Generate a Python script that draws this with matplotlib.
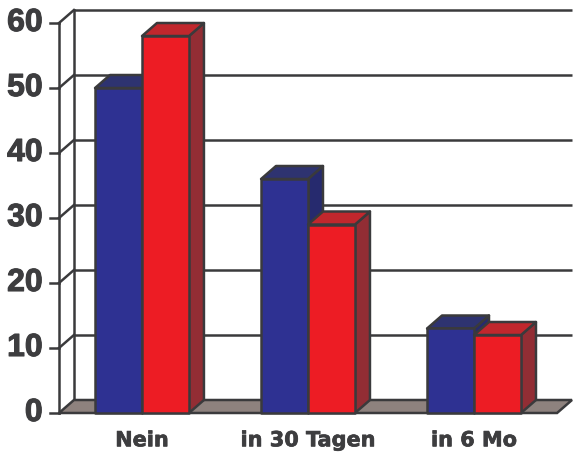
import matplotlib
matplotlib.use("Agg")
import matplotlib.pyplot as plt
from matplotlib.patches import Polygon
import matplotlib.patheffects as pe

categories = ["Nein", "in 30 Tagen", "in 6 Mo"]
series_a = [50, 36, 13]   # blue
series_b = [58, 29, 12]   # red
yticks = [0, 10, 20, 30, 40, 50, 60]

# colours
blue_front, blue_top, blue_side = "#2E3192", "#2E3370", "#262A6E"
red_front, red_top, red_side = "#ED1C24", "#C1272D", "#922D34"
floor_col = "#8E827E"
edge = "#3A3A3C"
txt = "#3D3D3F"

# pseudo-3D depth offset in data units
DX, DY = 0.09, 2.0
BW = 0.283
LW = 1.8

fig = plt.figure(figsize=(5.73, 4.57), dpi=100)
ax = fig.add_axes([0, 0, 1, 1])
ax.set_xlim(-0.3554, 3.096)
ax.set_ylim(-6.77, 63.54)
ax.axis("off")

ymax = yticks[-1]
ncat = len(categories)

# back wall gridlines and left wall diagonals
for t in yticks[1:]:
    ax.plot([DX, ncat + DX], [t + DY, t + DY], color=edge, lw=LW, solid_capstyle="butt", zorder=1)
    ax.plot([0, DX], [t, t + DY], color=edge, lw=LW, zorder=1)
    ax.plot([-0.055, 0], [t, t], color=edge, lw=LW, zorder=1)
ax.plot([-0.055, 0], [0, 0], color=edge, lw=LW, zorder=1)
ax.plot([DX, DX], [DY, ymax + DY], color=edge, lw=LW, zorder=1)
ax.plot([0, 0], [0, ymax], color=edge, lw=LW, zorder=1)

# floor
ax.add_patch(Polygon([(0, 0), (ncat, 0), (ncat + DX, DY), (DX, DY)],
                     closed=True, facecolor=floor_col, edgecolor=edge, lw=LW, zorder=2))


def bar3d(x0, h, front, top, side, z):
    x1 = x0 + BW
    ax.add_patch(Polygon([(x1, 0), (x1 + DX, DY), (x1 + DX, h + DY), (x1, h)],
                         closed=True, facecolor=side, edgecolor=edge, lw=LW,
                         joinstyle="round", zorder=z))
    ax.add_patch(Polygon([(x0, h), (x1, h), (x1 + DX, h + DY), (x0 + DX, h + DY)],
                         closed=True, facecolor=top, edgecolor=edge, lw=LW,
                         joinstyle="round", zorder=z))
    ax.add_patch(Polygon([(x0, 0), (x1, 0), (x1, h), (x0, h)],
                         closed=True, facecolor=front, edgecolor=edge, lw=LW,
                         joinstyle="round", zorder=z))


for i, (a, b) in enumerate(zip(series_a, series_b)):
    c = i + 0.5
    bar3d(c - BW, a, blue_front, blue_top, blue_side, 3 + 2 * i)
    bar3d(c, b, red_front, red_top, red_side, 4 + 2 * i)

for t in yticks:
    ax.text(-0.098, t, str(t), ha="right", va="center", fontsize=23,
            fontweight="bold", color=txt, family="Liberation Sans",
            path_effects=[pe.withStroke(linewidth=0.8, foreground=txt)])

for i, name in enumerate(categories):
    ax.text(i + 0.5, -4.2, name, ha="center", va="center", fontsize=15,
            fontweight="bold", color=txt, family="DejaVu Sans",
            path_effects=[pe.withStroke(linewidth=0.5, foreground=txt)])

fig.savefig("out.png", dpi=100)
